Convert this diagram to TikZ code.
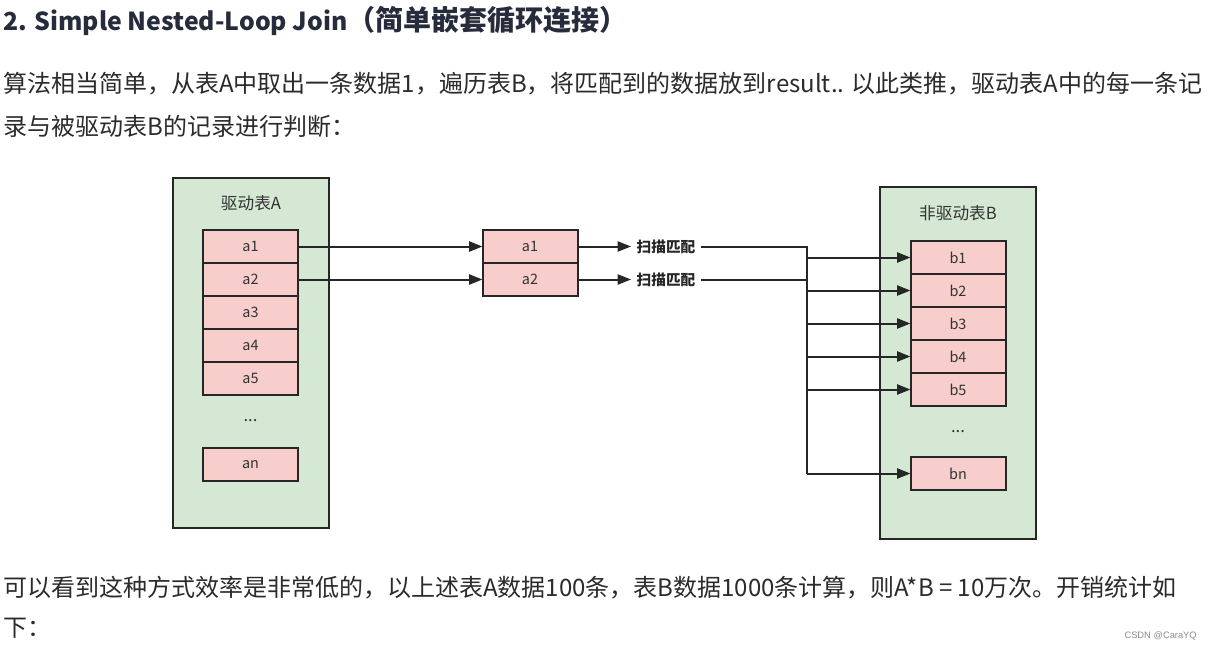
\documentclass[tikz,border=0pt]{standalone}
\usepackage{fontspec}
\setmainfont{Noto Sans CJK SC}
\newfontfamily\marksans{Liberation Sans}
\usetikzlibrary{arrows.meta}

\definecolor{tablegreen}{HTML}{D5E8D4}
\definecolor{cellpink}{HTML}{F8CECC}
\definecolor{inkdark}{HTML}{333333}
\definecolor{titleink}{HTML}{262C3B}
\definecolor{bodyink}{HTML}{2B2B2B}

\tikzset{
  table/.style={draw=black!85, line width=1.5pt, fill=tablegreen, inner sep=0pt, outer sep=0pt},
  cell/.style={draw=black!85, line width=1.5pt, fill=cellpink, minimum width=71.25pt, minimum height=24.75pt,
    inner sep=0pt, outer sep=0pt, text=inkdark, font=\fontsize{10.8}{12}\selectfont},
  tabletitle/.style={text=inkdark, font=\fontsize{12.5}{14}\selectfont},
  scan/.style={inner sep=4pt, text=black!85, font=\bfseries\fontsize{11}{13}\selectfont},
  link/.style={draw=black!85, line width=1.5pt},
  arr/.style={link, -{Triangle[length=10pt, width=7.5pt]}},
  bodytext/.style={anchor=west, inner sep=0pt, text=bodyink, font=\fontsize{18}{20}\selectfont}
}

\begin{document}
\begin{tikzpicture}[x=0.75pt, y=-0.75pt]
    \useasboundingbox[fill=white] (0,0) rectangle (1209,650);

    \node[anchor=west, inner sep=0pt, text=titleink, font=\bfseries] (title) at (3,21)
      {{\fontsize{18.6}{24}\selectfont 2. Simple Nested-Loop Join}{\fontsize{21}{24}\selectfont（简单嵌套循环连接）}};
    \node[bodytext] (line1) at (3,84)
      {算法相当简单，从表A中取出一条数据1，遍历表B，将匹配到的数据放到result.. 以此类推，驱动表A中的每一条记};
    \node[bodytext] (line2) at (3,126) {录与被驱动表B的记录进行判断：};

    \node[table, minimum width=117pt, minimum height=262.5pt] (tableA) at (251,353) {};
    \node[tabletitle] (nameA) at (251,203) {驱动表A};
    \foreach \i in {1,...,5}
        \node[cell] (a\i) at (250.5,{213.5+33*\i}) {a\i};
    \node[tabletitle] (dotsA) at (250.5,421) {...};
    \node[cell] (an) at (250.5,464.5) {an};

    \node[cell] (m1) at (530,246.5) {a1};
    \node[cell] (m2) at (530,279.5) {a2};

    \node[table, minimum width=117pt, minimum height=263.6pt] (tableB) at (958,363) {};
    \node[tabletitle] (nameB) at (958,213) {非驱动表B};
    \foreach \i in {1,...,5}
        \node[cell] (b\i) at (958,{224.5+33*\i}) {b\i};
    \node[tabletitle] (dotsB) at (958,432) {...};
    \node[cell] (bn) at (958,473.5) {bn};

    \node[scan] (s1) at (666,246.5) {扫描匹配};
    \node[scan] (s2) at (666,279.5) {扫描匹配};
    \coordinate (bus) at (807,0);

    \draw[arr] (a1.east) -- (m1.west);
    \draw[arr] (a2.east) -- (m2.west);
    \draw[arr] (m1.east) -- (s1.west);
    \draw[arr] (m2.east) -- (s2.west);
    \draw[link] (s1.east) -- (s1.east -| bus) -- (bn.west -| bus);
    \draw[link] (s2.east) -- (s2.east -| bus);
    \foreach \b in {b1,b2,b3,b4,b5,bn}
        \draw[arr] (\b.west -| bus) -- (\b.west);

    \node[bodytext] (line3) at (3,588)
      {可以看到这种方式效率是非常低的，以上述表A数据100条，表B数据1000条计算，则A*B = 10万次。开销统计如};
    \node[bodytext] (line4) at (3,628) {下：};
    \node[anchor=east, inner sep=0pt, text=black!45, font=\marksans\fontsize{7}{8}\selectfont] (mark) at (1197,636) {CSDN @CaraYQ};
\end{tikzpicture}
\end{document}
